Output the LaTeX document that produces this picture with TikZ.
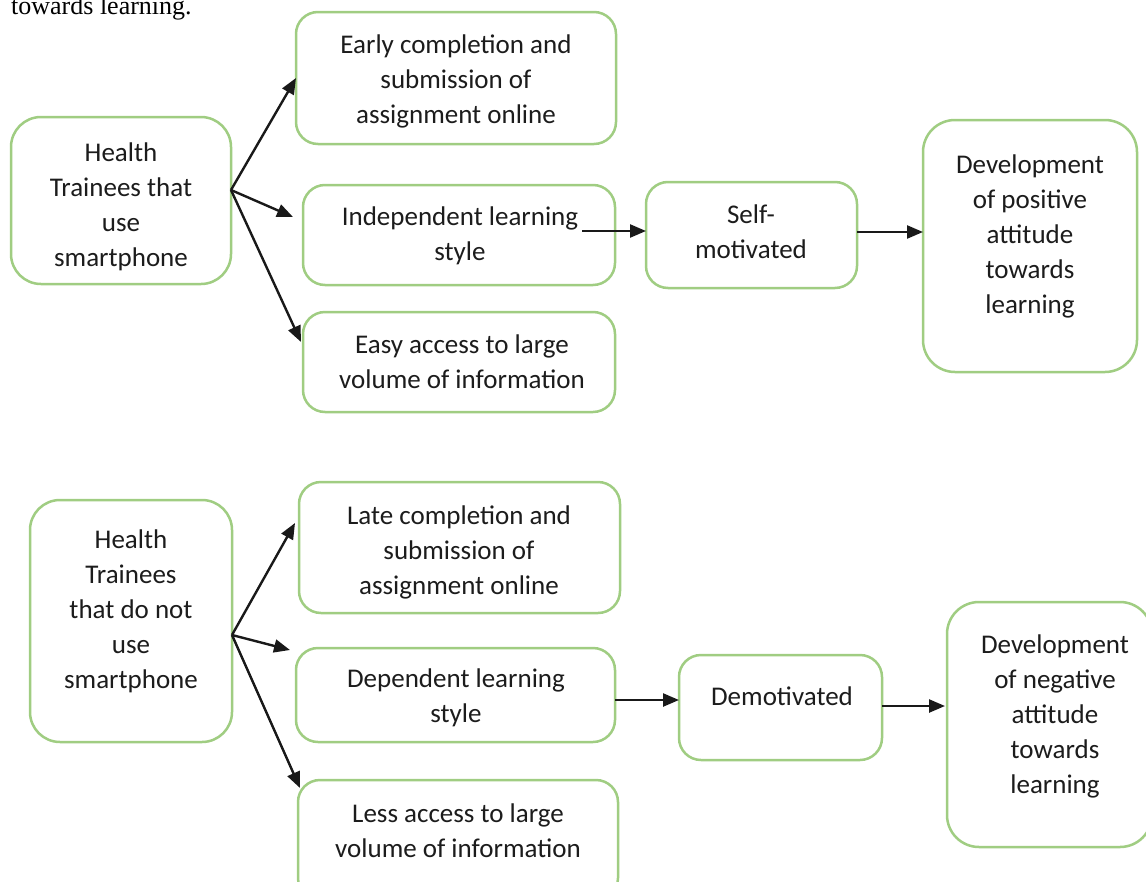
\documentclass[tikz,border=0pt]{standalone}
\usepackage{fontspec}
\setmainfont{Carlito}
\newfontfamily\serifpage{Liberation Serif}
\usetikzlibrary{arrows.meta}
\definecolor{boxgreen}{RGB}{160,205,130}
\definecolor{txt}{RGB}{28,28,28}
\tikzset{
 box/.style={draw=boxgreen, line width=2.5pt, rounded corners=22pt, inner sep=0pt, outer sep=0pt, fill=white},
 tallbox/.style={box, rounded corners=30pt},
 lbl/.style={font=\fontsize{27}{35}\selectfont, text=txt, align=center, anchor=north, inner sep=0pt, execute at begin node=\strut},
 arr/.style={draw=black!90, line width=2.4pt, -{Triangle[length=16pt,width=13pt]}},
}
\begin{document}
\begin{tikzpicture}[x=1pt,y=-1pt]
\useasboundingbox (0,0) rectangle (1146,881);
\clip (0,0) rectangle (1146,881);

\node[font=\serifpage\fontsize{26}{30}\selectfont, anchor=base west, inner sep=0pt] (cap) at (11,14) {towards learning.};

% top group boxes
\node[tallbox, minimum width=220pt, minimum height=167pt] (H1) at (121,200.5) {};
\node[box, minimum width=320pt, minimum height=132pt] (E1) at (456,78) {};
\node[box, minimum width=312pt, minimum height=100pt] (I1) at (459,235) {};
\node[box, minimum width=312pt, minimum height=100pt] (A1) at (459,362) {};
\node[box, minimum width=211pt, minimum height=106pt] (S1) at (751.5,235) {};
\node[tallbox, rounded corners=32pt, minimum width=214pt, minimum height=252pt] (D1) at (1030,246) {};

% bottom group boxes
\node[tallbox, minimum width=202pt, minimum height=242pt] (H2) at (131,621) {};
\node[box, minimum width=321pt, minimum height=131pt] (L2) at (459.5,547.5) {};
\node[box, minimum width=319pt, minimum height=94pt] (Dp2) at (455.5,695) {};
\node[box, minimum width=320pt, minimum height=120pt] (Le2) at (458,840) {};
\node[box, minimum width=203pt, minimum height=105pt] (Dm2) at (780.5,707.5) {};
\node[tallbox, rounded corners=32pt, minimum width=205pt, minimum height=245pt] (Dn2) at (1049.5,724.5) {};

% texts
\node[lbl] (tH1) at (121,142.5) {Health\\Trainees that\\use\\smartphone};
\node[lbl] (tE1) at (456,34.5) {Early completion and\\submission of\\assignment online};
\node[lbl] (tI1) at (460,206.5) {Independent learning\\style};
\node[lbl] (tA1) at (462,334.5) {Easy access to large\\volume of information};
\node[lbl] (tS1) at (751,204.5) {Self-\\motivated};
\node[lbl] (tD1) at (1030,154.5) {Development\\of positive\\attitude\\towards\\learning};

\node[lbl] (tH2) at (131,529.5) {Health\\Trainees\\that do not\\use\\smartphone};
\node[lbl] (tL2) at (459,505.5) {Late completion and\\submission of\\assignment online};
\node[lbl] (tDp2) at (456,668.5) {Dependent learning\\style};
\node[lbl] (tLe2) at (458,803.5) {Less access to large\\volume of information};
\node[lbl] (tDm2) at (782,680.5) {Demotivated};
\node[lbl] (tDn2) at (1055,634.5) {Development\\of negative\\attitude\\towards\\learning};

% connectors, top
\coordinate (src1) at ([yshift=10.5pt]H1.east);
\draw[arr] (src1) -- (E1.west);
\draw[arr] (src1) -- ([xshift=-10pt,yshift=18pt]I1.west);
\draw[arr] (src1) -- ([xshift=-2pt,yshift=20pt]A1.west);
\coordinate (m1) at (582,231);
\draw[arr] (m1) -- (m1 -| S1.west);
\coordinate (m2) at ([yshift=3pt]S1.east);
\draw[arr] (m2) -- (m2 -| D1.west);

% connectors, bottom
\coordinate (src2) at ([yshift=-14pt]H2.east);
\draw[arr] (src2) -- ([xshift=-4pt,yshift=24.5pt]L2.west);
\draw[arr] (src2) -- ([xshift=-6pt,yshift=45pt]Dp2.west);
\draw[arr] (src2) -- ([xshift=2pt,yshift=52pt]Le2.west);
\coordinate (m3) at ([yshift=-5pt]Dp2.east);
\draw[arr] (m3) -- (m3 -| Dm2.west);
\coordinate (m4) at ([yshift=1.5pt]Dm2.east);
\draw[arr] (m4) -- ([xshift=-2pt]m4 -| Dn2.west);
\end{tikzpicture}
\end{document}
